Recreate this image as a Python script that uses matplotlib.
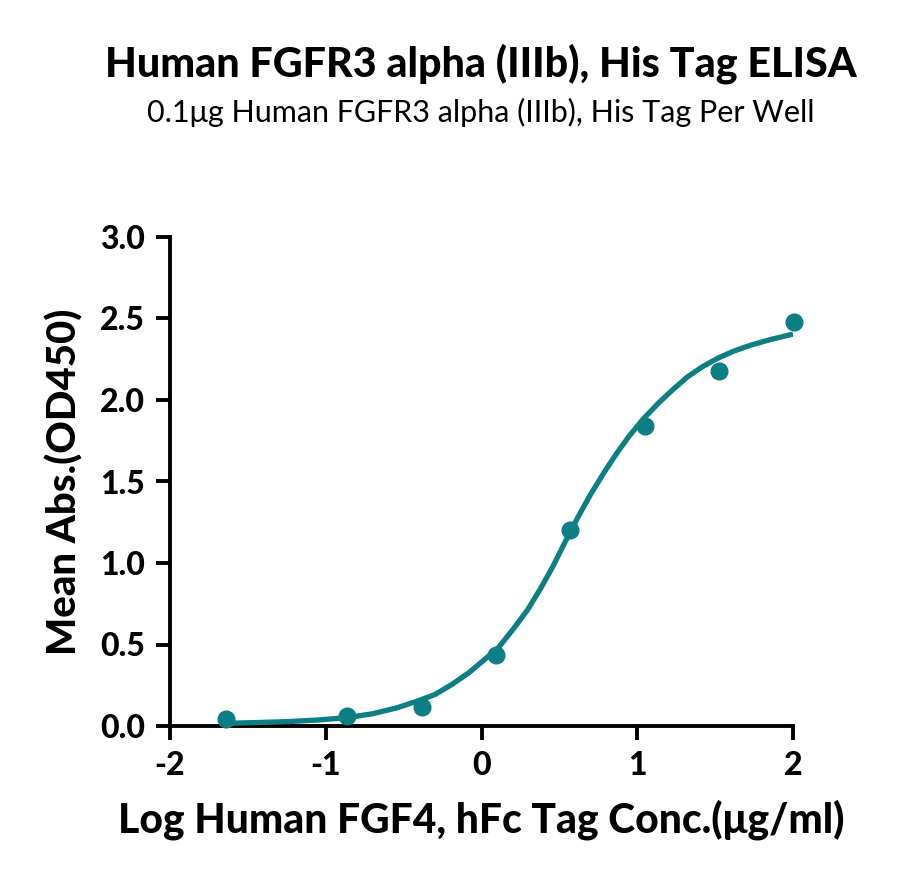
import matplotlib
matplotlib.use("Agg")
import matplotlib.pyplot as plt

# measured points (log conc, OD450)
log_conc = [-1.643, -0.865, -0.384, 0.095, 0.568, 1.049, 1.527, 2.005]
mean_abs = [0.045, 0.062, 0.118, 0.435, 1.205, 1.840, 2.180, 2.480]

# fitted curve
curve_x = [-1.649, -1.45, -1.243, -1.05, -0.865, -0.70, -0.541, -0.42, -0.297, -0.19,
           -0.081, 0.01, 0.108, 0.20, 0.297, 0.38, 0.459, 0.54, 0.622, 0.70, 0.784,
           0.866, 0.946, 1.04, 1.135, 1.23, 1.324, 1.42, 1.514, 1.62, 1.73, 1.86, 2.0]
curve_y = [0.016, 0.021, 0.027, 0.037, 0.051, 0.075, 0.112, 0.150, 0.194, 0.255,
           0.327, 0.400, 0.480, 0.590, 0.714, 0.845, 0.980, 1.135, 1.286, 1.420, 1.551,
           1.670, 1.776, 1.885, 1.980, 2.065, 2.143, 2.205, 2.255, 2.300, 2.337, 2.372, 2.404]

title = "Human FGFR3 alpha (IIIb), His Tag ELISA"
subtitle = "0.1\u03bcg Human FGFR3 alpha (IIIb), His Tag Per Well"
xlabel = "Log Human FGF4, hFc Tag Conc.(\u03bcg/ml)"
ylabel = "Mean Abs.(OD450)"
xticks = [-2, -1, 0, 1, 2]
yticks = [0, 0.5, 1.0, 1.5, 2.0, 2.5, 3.0]

teal = "#0b7f83"
plt.rcParams['font.family'] = ['Lato', 'DejaVu Sans']
plt.rcParams['axes.unicode_minus'] = False

fig = plt.figure(figsize=(9, 8.88), dpi=100)
ax = fig.add_axes([170 / 900, 1 - 726 / 888, 623 / 900, 489 / 888])

ax.plot(curve_x, curve_y, color=teal, lw=3.8, solid_capstyle='butt', zorder=3)
ax.plot(log_conc, mean_abs, 'o', color=teal, ms=12, zorder=4, clip_on=False)

ax.set_xlim(-2, 2)
ax.set_ylim(0, 3.0)
ax.set_xticks(xticks)
ax.set_xticklabels([str(t) for t in xticks])
ax.set_yticks(yticks)
ax.set_yticklabels(["%.1f" % t for t in yticks])
for s in ['top', 'right']:
    ax.spines[s].set_visible(False)
for s in ['left', 'bottom']:
    ax.spines[s].set_linewidth(2.8)
ax.tick_params(axis='both', length=10, width=2.8, labelsize=23, pad=8)
for lab in ax.get_xticklabels() + ax.get_yticklabels():
    lab.set_fontweight('black')

ax.set_xlabel(xlabel, fontsize=29.3, fontweight='black', labelpad=14)
ax.set_ylabel(ylabel, fontsize=29, fontweight='black', labelpad=12)

fig.text(481 / 900, 1 - 64 / 888, title, ha='center', va='center',
         fontsize=29.7, fontweight='black')
fig.text(481 / 900, 1 - 112 / 888, subtitle, ha='center', va='center',
         fontsize=22)

fig.savefig("out.png", dpi=100)
